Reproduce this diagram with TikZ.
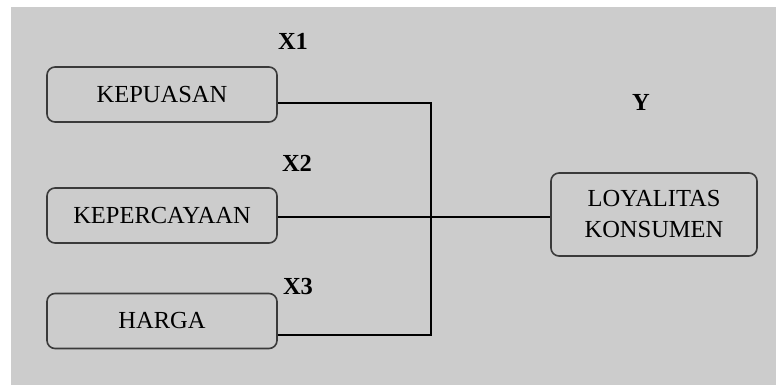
\documentclass[tikz,border=0pt]{standalone}
\usepackage{fontspec}
\setmainfont{Liberation Serif}
\usepackage{tikz}
\usetikzlibrary{arrows}

\definecolor{bggray}{HTML}{CCCCCC}
\definecolor{boxline}{HTML}{3A3A3A}

\begin{document}
\begin{tikzpicture}[x=1pt, y=-1pt,
  var/.style={draw=boxline, line width=1.6pt, rounded corners=8pt, fill=bggray,
    minimum width=230pt, minimum height=55pt, inner sep=0pt,
    font=\fontsize{24.5}{31}\selectfont},
  lbl/.style={font=\fontsize{24.5}{31}\selectfont\bfseries, inner sep=0pt}]
\useasboundingbox (0,0) rectangle (776,385);
\fill[bggray] (11,7) rectangle (776,385);

\node[var] at (162,94.5) (n1) {KEPUASAN};
\node[var] at (162,215.5) (n2) {KEPERCAYAAN};
\node[var] at (162,321) (n3) {HARGA};
\node[var, minimum width=206pt, minimum height=83pt, align=center] at (654,214.5) (ny) {LOYALITAS\\KONSUMEN};

\node[lbl] at (293,41) (x1) {X1};
\node[lbl] at (297,163) (x2) {X2};
\node[lbl] at (298,287) (x3) {X3};
\node[lbl] at (641,102) (y) {Y};

\coordinate (jn) at (431,217);

\draw[line width=1.4pt] ([yshift=-8.5pt]n1.east) -| (jn);
\draw[line width=1.4pt] ([yshift=-14pt]n3.east) -| (jn);
\draw[line width=1.4pt] ([yshift=-1.5pt]n2.east) -- ([yshift=-1.5pt]n2.east -| ny.west);

\end{tikzpicture}
\end{document}
